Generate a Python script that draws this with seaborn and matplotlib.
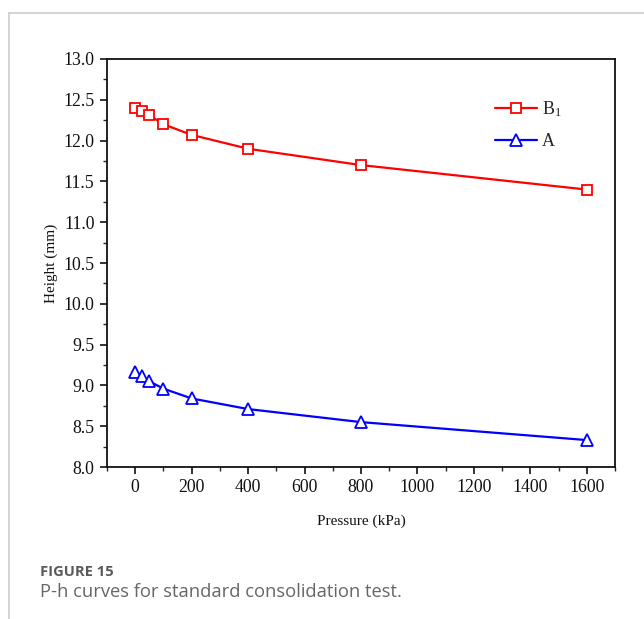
import matplotlib
matplotlib.use("Agg")
import matplotlib.pyplot as plt
import seaborn as sns
import pandas as pd
from matplotlib.lines import Line2D

pressure = [0, 25, 50, 100, 200, 400, 800, 1600]
height_B1 = [12.40, 12.36, 12.31, 12.20, 12.07, 11.90, 11.70, 11.40]
height_A = [9.17, 9.11, 9.05, 8.96, 8.84, 8.71, 8.55, 8.33]
series_names = ["B$_1$", "A"]
x_ticks = [0, 200, 400, 600, 800, 1000, 1200, 1400, 1600]
y_ticks = [8.0, 8.5, 9.0, 9.5, 10.0, 10.5, 11.0, 11.5, 12.0, 12.5, 13.0]

sns.set_theme(style="white")
plt.rcParams["font.family"] = ["Liberation Serif", "DejaVu Serif"]
plt.rcParams["mathtext.fontset"] = "custom"
plt.rcParams["mathtext.rm"] = "Liberation Serif"
plt.rcParams["mathtext.it"] = "Liberation Serif:italic"

fig = plt.figure(figsize=(6.44, 6.19), dpi=100)
ax = fig.add_axes([107/644, 1-467/619, (615-107)/644, (467-59)/619])

df_b = pd.DataFrame({"p": pressure, "h": height_B1})
df_a = pd.DataFrame({"p": pressure, "h": height_A})
sns.lineplot(data=df_b, x="p", y="h", ax=ax, color="#ff0000", lw=1.6,
             marker="s", markersize=7.5, markerfacecolor="white",
             markeredgecolor="#ff0000", markeredgewidth=1.3)
sns.lineplot(data=df_a, x="p", y="h", ax=ax, color="#0000ff", lw=1.6,
             marker="^", markersize=9, markerfacecolor="white",
             markeredgecolor="#0000ff", markeredgewidth=1.3)

ax.set_xlim(-100, 1700)
ax.set_ylim(8.0, 13.0)
ax.set_xticks(x_ticks)
ax.set_yticks(y_ticks)
ax.set_xticklabels([str(v) for v in x_ticks])
ax.set_yticklabels([f"{v:.1f}" for v in y_ticks])
ax.set_xticks([v + 100 for v in x_ticks[:-1]] + [-100, 1700], minor=True)
ax.set_yticks([v + 0.25 for v in y_ticks[:-1]], minor=True)
ax.tick_params(which="major", direction="out", length=5, width=1.2,
               labelsize=12.8, colors="#111111", bottom=True, left=True, pad=4)
ax.tick_params(which="minor", direction="out", length=3, width=1.0,
               bottom=True, left=True)
for s in ax.spines.values():
    s.set_color("#111111")
    s.set_linewidth(1.3)
ax.set_xlabel("Pressure (kPa)", fontsize=11, color="#111111", labelpad=13)
ax.set_ylabel("Height (mm)", fontsize=11, color="#111111", labelpad=4)

handles = [
    Line2D([], [], color="#ff0000", lw=1.6, marker="s", markersize=7.5,
           markerfacecolor="white", markeredgecolor="#ff0000", markeredgewidth=1.3),
    Line2D([], [], color="#0000ff", lw=1.6, marker="^", markersize=9,
           markerfacecolor="white", markeredgecolor="#0000ff", markeredgewidth=1.3),
]
ax.legend(handles, series_names, loc="upper left", frameon=False,
          fontsize=13, handlelength=2.3, handletextpad=0.3,
          labelspacing=0.8, borderpad=0, borderaxespad=0,
          bbox_to_anchor=(495/644, 1-99/619), bbox_transform=fig.transFigure)

# card border
fig.add_artist(Line2D([9/644, 1.0], [1-13/619, 1-13/619], color="#cccccc", lw=1.2))
fig.add_artist(Line2D([9/644, 9/644], [0, 1-13/619], color="#cccccc", lw=1.2))

fig.text(40/644, 1-572/619, "FIGURE 15", fontsize=10.6, fontweight="bold",
         color="#5a5a5a", family=["Open Sans", "DejaVu Sans"], va="center")
fig.text(40/644, 1-592/619, "P-h curves for standard consolidation test.",
         fontsize=13.2, color="#666666", family=["Open Sans", "DejaVu Sans"], va="center")

fig.savefig("out.png", dpi=100)
